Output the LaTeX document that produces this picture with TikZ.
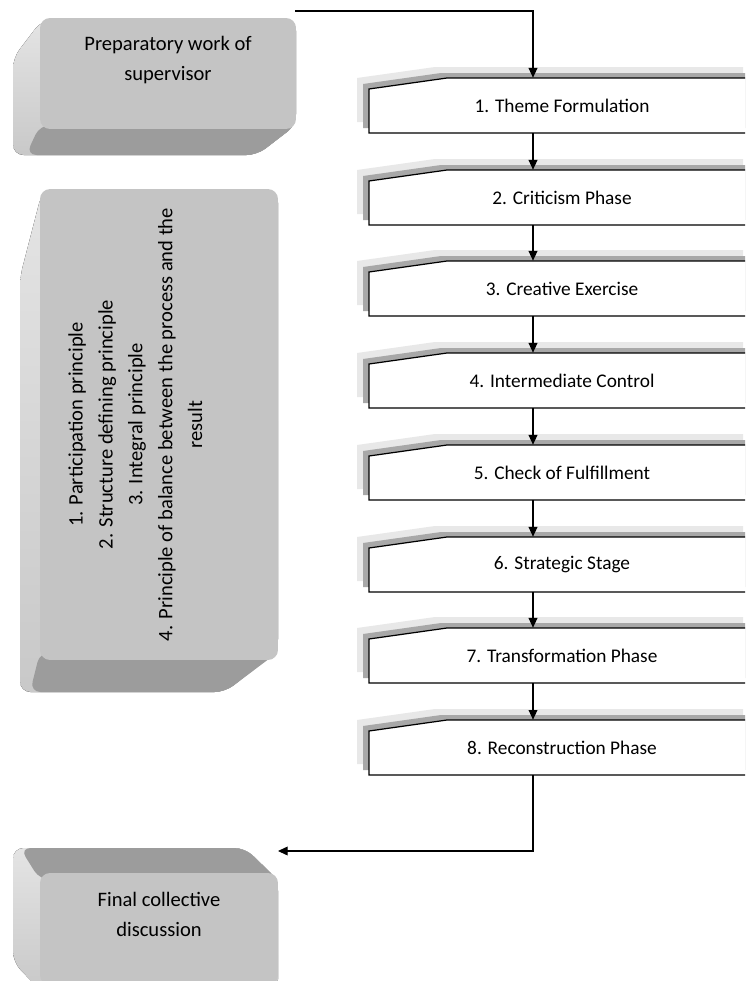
\documentclass[tikz,border=0pt]{standalone}
\usepackage{fontspec}
\setmainfont{Carlito}
\usepackage{xcolor}
\usetikzlibrary{arrows.meta,calc}

\definecolor{boxface}{HTML}{C4C4C4}
\definecolor{boxside}{HTML}{E4E4E4}
\definecolor{boxbase}{HTML}{9C9C9C}
\definecolor{shadowdark}{HTML}{A8A8A8}
\definecolor{shadowlight}{HTML}{E8E8E8}

\tikzset{
  phase/.style={rectangle, minimum width=7.72cm, minimum height=1.1cm, inner sep=0pt},
  phaseline/.style={draw=black, line width=0.7pt, fill=white,
    preaction={fill=shadowlight, transform canvas={shift={(-12,-11)}}},
    preaction={fill=shadowdark, transform canvas={shift={(-6,-5)}}}},
  face/.style={rectangle, rounded corners=0.2cm, fill=boxface, align=center, inner sep=0pt,
    font=\fontsize{11.7}{17}\selectfont},
  side/.style={top color=boxside, bottom color=boxside!88!black, rounded corners=6},
  flow/.style={-{Triangle[length=5.5pt,width=5pt]}, line width=0.6pt},
}

\begin{document}
\begin{tikzpicture}[x=0.02cm, y=-0.02cm, font=\fontsize{11}{17}\selectfont]
        \useasboundingbox (0,0) rectangle (745,981);
        \clip (0,0) rectangle (745,981);
        \fill[white] (0,0) rectangle (745,981);

        % left 3d boxes
        \fill[side] (42,20) -- (13,58) -- (13,155) -- (257,155) -- (296,125) -- (296,20) -- cycle;
        \fill[boxbase, rounded corners=6] (40,125) -- (296,125) -- (257,155) -- (26,155) -- cycle;
        \node[face, minimum width=5.12cm, minimum height=2.22cm] (prep) at (168,73.5) {Preparatory work of\\supervisor\\~};

        \fill[side] (42,192) -- (20,277) -- (20,692) -- (225,692) -- (278,650) -- (278,192) -- cycle;
        \fill[boxbase, rounded corners=6] (40,652) -- (278,652) -- (225,692) -- (30,692) -- cycle;
        \node[face, rotate=90, minimum width=9.42cm, minimum height=4.76cm] (rules) at (159,424.5)
            {1. Participation principle\\2. Structure defining principle\\3. Integral principle\\4. Principle of balance between the process and the\\result\\[10pt]~};

        \fill[side] (40,990) -- (13,962) -- (13,848) -- (245,848) -- (278,880) -- (278,990) -- cycle;
        \fill[boxbase, rounded corners=6] (20,848) -- (245,848) -- (278,880) -- (40,880) -- cycle;
        \node[face, minimum width=4.76cm, minimum height=2.24cm] (final) at (159,929) {Final collective\\discussion\\~};

        % phases
        \draw[phaseline] (369,133) -- (369,89) -- (447,78) -- (755,78) -- (755,133) -- cycle;
        \node[phase] (s1) at (562,105.5) {1. Theme Formulation};
        \draw[phaseline] (369,225) -- (369,181) -- (447,170) -- (755,170) -- (755,225) -- cycle;
        \node[phase] (s2) at (562,197.5) {2. Criticism Phase};
        \draw[phaseline] (369,316) -- (369,272) -- (447,261) -- (755,261) -- (755,316) -- cycle;
        \node[phase] (s3) at (562,288.5) {3. Creative Exercise};
        \draw[phaseline] (369,408) -- (369,364) -- (447,353) -- (755,353) -- (755,408) -- cycle;
        \node[phase] (s4) at (562,380.5) {4. Intermediate Control};
        \draw[phaseline] (369,500) -- (369,456) -- (447,445) -- (755,445) -- (755,500) -- cycle;
        \node[phase] (s5) at (562,472.5) {5. Check of Fulfillment};
        \draw[phaseline] (369,592) -- (369,548) -- (447,537) -- (755,537) -- (755,592) -- cycle;
        \node[phase] (s6) at (562,564.5) {6. Strategic Stage};
        \draw[phaseline] (369,683) -- (369,639) -- (447,628) -- (755,628) -- (755,683) -- cycle;
        \node[phase] (s7) at (562,655.5) {7. Transformation Phase};
        \draw[phaseline] (369,775) -- (369,731) -- (447,720) -- (755,720) -- (755,775) -- cycle;
        \node[phase] (s8) at (562,747.5) {8. Reconstruction Phase};

        % connectors
        \coordinate (ax) at (533,0);
        \coordinate (start) at (295,11);
        \coordinate (finend) at (278,851);
        \draw[flow] (start) -| (s1.north -| ax);
        \draw[flow] (s1.south -| ax) -- (s2.north -| ax);
        \draw[flow] (s2.south -| ax) -- (s3.north -| ax);
        \draw[flow] (s3.south -| ax) -- (s4.north -| ax);
        \draw[flow] (s4.south -| ax) -- (s5.north -| ax);
        \draw[flow] (s5.south -| ax) -- (s6.north -| ax);
        \draw[flow] (s6.south -| ax) -- (s7.north -| ax);
        \draw[flow] (s7.south -| ax) -- (s8.north -| ax);
        \draw[flow] (s8.south -| ax) |- (finend);
    \end{tikzpicture}
\end{document}
